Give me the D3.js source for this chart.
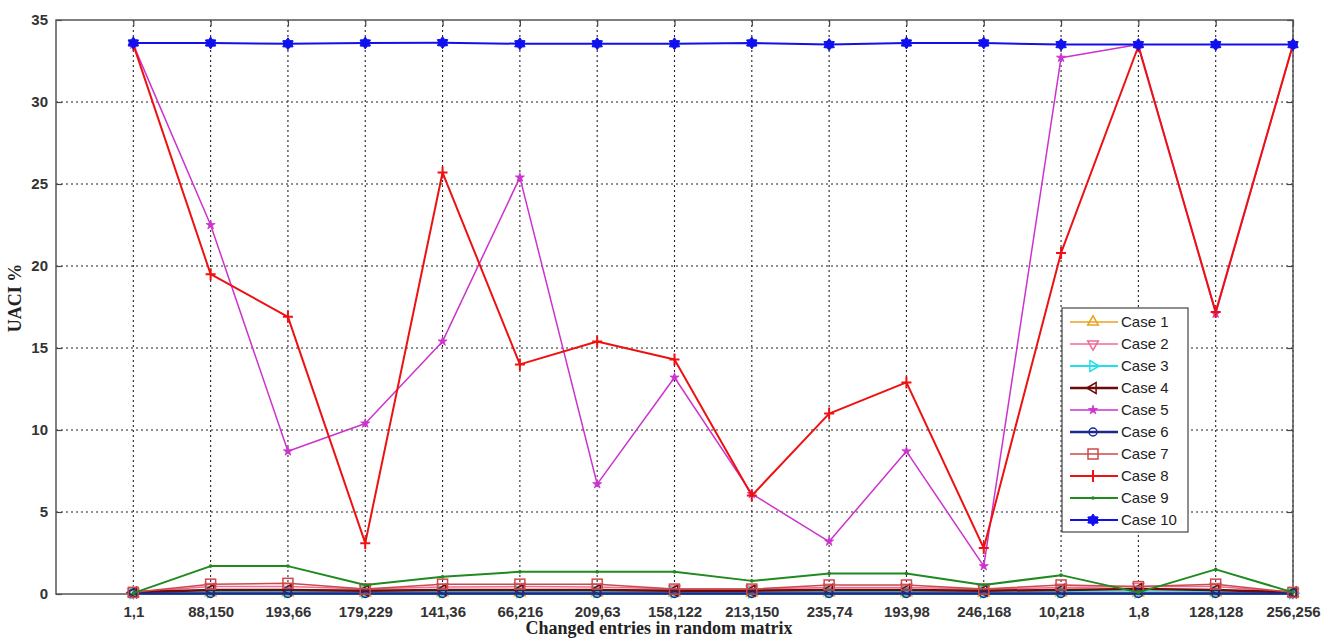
<!DOCTYPE html>
<html>
<head>
<meta charset="utf-8">
<script src="https://cdn.jsdelivr.net/npm/d3@7"></script>
<style>
  html, body { margin: 0; padding: 0; background: #fff; }
  svg { display: block; }
</style>
</head>
<body>
<svg id="chart" width="1323" height="640"></svg>
<script>
// Changed matrix entries (x categories)
const categories = ["1,1", "88,150", "193,66", "179,229", "141,36", "66,216", "209,63", "158,122",
  "213,150", "235,74", "193,98", "246,168", "10,218", "1,8", "128,128", "256,256"];

const yTicks = [0, 5, 10, 15, 20, 25, 30, 35];

// UACI % per case
const case1  = [0.05, 0.08, 0.08, 0.06, 0.08, 0.08, 0.08, 0.06, 0.06, 0.08, 0.08, 0.06, 0.08, 0.06, 0.08, 0.05];
const case2  = [0.1, 0.45, 0.45, 0.3, 0.42, 0.45, 0.42, 0.3, 0.3, 0.4, 0.4, 0.3, 0.4, 0.45, 0.45, 0.1];
const case3  = [0.05, 0.12, 0.12, 0.1, 0.12, 0.12, 0.12, 0.1, 0.1, 0.12, 0.12, 0.1, 0.12, 0.1, 0.12, 0.05];
const case4  = [0.1, 0.25, 0.25, 0.2, 0.25, 0.25, 0.25, 0.2, 0.2, 0.25, 0.25, 0.2, 0.25, 0.3, 0.25, 0.1];
const case5  = [33.5, 22.5, 8.7, 10.4, 15.4, 25.4, 6.7, 13.2, 6.1, 3.2, 8.7, 1.7, 32.7, 33.5, 17.1, 33.5];
const case6  = [0.03, 0.03, 0.03, 0.03, 0.03, 0.03, 0.03, 0.03, 0.03, 0.03, 0.03, 0.03, 0.03, 0.03, 0.03, 0.03];
const case7  = [0.1, 0.6, 0.65, 0.3, 0.6, 0.6, 0.6, 0.3, 0.3, 0.55, 0.55, 0.3, 0.55, 0.45, 0.6, 0.1];
const case8  = [33.5, 19.5, 16.9, 3.1, 25.7, 14.0, 15.4, 14.3, 6.0, 11.0, 12.9, 2.8, 20.8, 33.4, 17.2, 33.5];
const case9  = [0.05, 1.7, 1.7, 0.55, 1.05, 1.35, 1.35, 1.35, 0.8, 1.25, 1.25, 0.55, 1.15, 0.1, 1.5, 0.1];
const case10 = [33.6, 33.6, 33.55, 33.6, 33.62, 33.55, 33.55, 33.55, 33.6, 33.5, 33.6, 33.6, 33.5, 33.5, 33.5, 33.5];

const caseNames = ["Case 1", "Case 2", "Case 3", "Case 4", "Case 5", "Case 6", "Case 7", "Case 8", "Case 9", "Case 10"];
const caseValues = [case1, case2, case3, case4, case5, case6, case7, case8, case9, case10];
const caseColors = ["#e8a31c", "#f06a96", "#22e0e8", "#6e0a0a", "#cc33cc", "#1a2a8c", "#cc4a4a", "#ee1111", "#1f8a1f", "#1010ee"];
const caseMarkers = ["triUp", "triDown", "triRight", "triLeft", "star", "circle", "square", "plus", "dot", "hex"];
const caseWidths = [1.5, 1.5, 2, 2.5, 1.5, 2.5, 1.5, 2, 2, 2];

const series = caseNames.map((name, i) => ({
  name, values: caseValues[i], color: caseColors[i], marker: caseMarkers[i], width: caseWidths[i]
}));

const svg = d3.select("#chart");
const margin = { left: 56, right: 30, top: 20, bottom: 46 };
const W = 1323, H = 640;

const x = d3.scaleLinear().domain([0, categories.length]).range([margin.left, W - margin.right]);
const y = d3.scaleLinear().domain([0, 35]).range([H - margin.bottom, margin.top]);

const x0 = x.range()[0], x1 = x.range()[1], y0 = y.range()[0], y1 = y.range()[1];

// Grid lines
const grid = svg.append("g").attr("stroke", "#222").attr("stroke-width", 1.1).attr("stroke-dasharray", "2,3");
grid.selectAll("line.v").data(categories).join("line")
  .attr("x1", (d, i) => x(i + 1)).attr("x2", (d, i) => x(i + 1))
  .attr("y1", y1).attr("y2", y0);
grid.selectAll("line.h").data(yTicks.slice(1, -1)).join("line")
  .attr("x1", x0).attr("x2", x1)
  .attr("y1", d => y(d)).attr("y2", d => y(d));

// Axes with inward ticks
const fontTick = "bold 15px 'Liberation Sans', Arial, sans-serif";
const xAxis = d3.axisBottom(x).tickValues(d3.range(1, categories.length + 1))
  .tickFormat(i => categories[i - 1]).tickSizeInner(-6).tickSizeOuter(0).tickPadding(12);
const yAxis = d3.axisLeft(y).tickValues(yTicks).tickSizeInner(-6).tickSizeOuter(0).tickPadding(8);

const gx = svg.append("g").attr("transform", `translate(0,${y0})`).call(xAxis);
const gy = svg.append("g").attr("transform", `translate(${x0},0)`).call(yAxis);
[gx, gy].forEach(g => {
  g.select(".domain").remove();
  g.selectAll(".tick line").attr("stroke", "#444").attr("stroke-width", 1.2);
  g.selectAll(".tick text").style("font", fontTick).attr("fill", "#333");
});
// mirrored ticks on top and right
svg.append("g").attr("transform", `translate(0,${y1})`)
  .call(d3.axisTop(x).tickValues(d3.range(1, categories.length + 1)).tickSizeInner(-6).tickSizeOuter(0).tickFormat(""))
  .call(g => { g.select(".domain").remove(); g.selectAll(".tick line").attr("stroke", "#444").attr("stroke-width", 1.2); });
svg.append("g").attr("transform", `translate(${x1},0)`)
  .call(d3.axisRight(y).tickValues(yTicks).tickSizeInner(-6).tickSizeOuter(0).tickFormat(""))
  .call(g => { g.select(".domain").remove(); g.selectAll(".tick line").attr("stroke", "#444").attr("stroke-width", 1.2); });

// Plot box
svg.append("rect").attr("x", x0).attr("y", y1).attr("width", x1 - x0).attr("height", y0 - y1)
  .attr("fill", "none").attr("stroke", "#555").attr("stroke-width", 1.5);

// Marker drawing
function drawMarker(g, type, color) {
  const s = 5;
  switch (type) {
    case "triUp":
      g.append("path").attr("d", d3.symbol(d3.symbolTriangle, 50)()).attr("fill", "none").attr("stroke", color).attr("stroke-width", 1.5); break;
    case "triDown":
      g.append("path").attr("d", d3.symbol(d3.symbolTriangle, 50)()).attr("transform", "rotate(180)").attr("fill", "none").attr("stroke", color).attr("stroke-width", 1.5); break;
    case "triRight":
      g.append("path").attr("d", d3.symbol(d3.symbolTriangle, 50)()).attr("transform", "rotate(90)").attr("fill", "none").attr("stroke", color).attr("stroke-width", 1.5); break;
    case "triLeft":
      g.append("path").attr("d", d3.symbol(d3.symbolTriangle, 50)()).attr("transform", "rotate(-90)").attr("fill", "none").attr("stroke", color).attr("stroke-width", 1.5); break;
    case "star":
      g.append("path").attr("d", d3.symbol(d3.symbolStar, 26)()).attr("fill", color).attr("stroke", color).attr("stroke-width", 0.8); break;
    case "circle":
      g.append("circle").attr("r", 4).attr("fill", "none").attr("stroke", color).attr("stroke-width", 1.5); break;
    case "square":
      g.append("rect").attr("x", -s).attr("y", -s).attr("width", 2 * s).attr("height", 2 * s)
        .attr("fill", "none").attr("stroke", color).attr("stroke-width", 1.5); break;
    case "plus":
      g.append("path").attr("d", `M${-s},0H${s}M0,${-s - 1}V${s + 1}`).attr("stroke", color).attr("stroke-width", 2); break;
    case "dot":
      g.append("circle").attr("r", 1.8).attr("fill", color); break;
    case "hex": {
      // six-pointed star
      const pts = d3.range(12).map(k => {
        const a = -Math.PI / 2 + k * Math.PI / 6;
        const r = k % 2 === 0 ? 6 : 3.8;
        return [r * Math.cos(a), r * Math.sin(a)];
      });
      g.append("path").attr("d", "M" + pts.join("L") + "Z").attr("fill", color).attr("stroke", color).attr("stroke-width", 1);
      break;
    }
  }
}

const line = d3.line().x((d, i) => x(i + 1)).y(d => y(d));
const drawOrder = [0, 1, 2, 3, 5, 6, 8, 4, 7, 9];
const plot = svg.append("g");
drawOrder.forEach(idx => {
  const s = series[idx];
  const g = plot.append("g");
  g.append("path").attr("d", line(s.values)).attr("fill", "none")
    .attr("stroke", s.color).attr("stroke-width", s.width).attr("stroke-linejoin", "round");
  s.values.forEach((v, i) => {
    const m = g.append("g").attr("transform", `translate(${x(i + 1)},${y(v)})`);
    drawMarker(m, s.marker, s.color);
  });
});

// Axis titles
svg.append("text").attr("x", 659).attr("y", 634).attr("text-anchor", "middle")
  .style("font", "bold 18px 'Liberation Serif', 'Times New Roman', serif").attr("fill", "#222")
  .text("Changed entries in random matrix");
svg.append("text").attr("transform", "translate(21,298) rotate(-90)").attr("text-anchor", "middle")
  .style("font", "bold 18px 'Liberation Serif', 'Times New Roman', serif").attr("fill", "#222")
  .text("UACI %");

// Legend
const lg = svg.append("g");
lg.append("rect").attr("x", 1062).attr("y", 308).attr("width", 126).attr("height", 224)
  .attr("fill", "#fff").attr("stroke", "#444").attr("stroke-width", 1.2);
series.forEach((s, i) => {
  const ly = 322 + i * 22;
  const row = lg.append("g");
  row.append("line").attr("x1", 1070).attr("x2", 1118).attr("y1", ly).attr("y2", ly)
    .attr("stroke", s.color).attr("stroke-width", s.width);
  const m = row.append("g").attr("transform", `translate(1093,${ly})`);
  drawMarker(m, s.marker, s.color);
  row.append("text").attr("x", 1121).attr("y", ly + 5)
    .style("font", "15px 'Liberation Sans', Arial, sans-serif").attr("fill", "#222").text(s.name);
});
</script>
</body>
</html>
